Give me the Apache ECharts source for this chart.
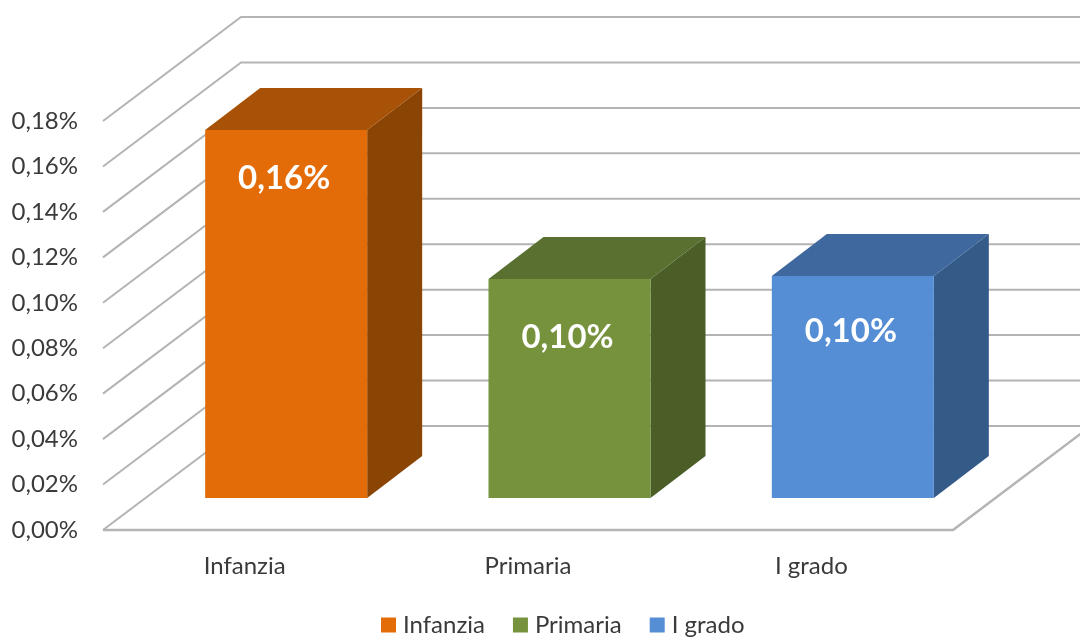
<!DOCTYPE html>
<html>
<head>
<meta charset="utf-8">
<style>html,body{margin:0;padding:0;background:#fff}#main{width:1080px;height:637px}</style>
<script src="https://cdn.jsdelivr.net/npm/echarts@6/dist/echarts.min.js"></script>
</head>
<body>
<div id="main"></div>
<script>
var categories = ['Infanzia', 'Primaria', 'I grado'];
var barValues = [0.162, 0.0964, 0.0977];
var tickValues = [0, 0.02, 0.04, 0.06, 0.08, 0.10, 0.12, 0.14, 0.16, 0.18];

// fake 3d: pixel offsets of the back wall and of the bars
var WALL_DX = 138, WALL_DY = 104;
var BAR_DX = 55, BAR_DY = 42;
var BAR_SHIFT_X = 41.5, BAR_SHIFT_Y = 32, BAR_W = 162;
var LINE = '#b4b4b4';
var FONT = 'Lato';
var TEXT = '#3a3a3a';

var barColors = [
    {front: '#e36c09', top: '#a85207', side: '#8a4505'},
    {front: '#76923c', top: '#5a7030', side: '#4b5e27'},
    {front: '#558ed5', top: '#3f699e', side: '#345a88'}
];
var labelOffsets = [48, 58, 55];

function fmt(v) {
    return v.toFixed(2).replace('.', ',') + '%';
}

function renderGrid(params, api) {
    var g = params.coordSys;
    var y = api.coord([0, api.value(0)])[1];
    var x0 = g.x, bx = g.x + WALL_DX, by = y - WALL_DY;
    var children = [{
        type: 'polyline',
        shape: {points: [[x0, y], [bx, by], [api.getWidth(), by]]},
        style: {stroke: LINE, lineWidth: 2, fill: null}
    }];
    if (api.value(0) === 0) {
        children.push({
            type: 'polyline',
            shape: {points: [[x0, y], [x0 + g.width, y], [x0 + g.width + WALL_DX, by]]},
            style: {stroke: LINE, lineWidth: 2.5, fill: null}
        });
    }
    return {type: 'group', children: children};
}

function renderBar(params, api) {
    var i = params.seriesIndex - 1;
    var c = barColors[i];
    var top = api.coord([api.value(0), api.value(1)]);
    var base = api.coord([api.value(0), 0]);
    var l = top[0] + BAR_SHIFT_X - BAR_W / 2, r = l + BAR_W;
    var t = top[1] - BAR_SHIFT_Y, b = base[1] - BAR_SHIFT_Y;
    return {
        type: 'group',
        children: [
            {type: 'polygon', shape: {points: [[r, t], [r + BAR_DX, t - BAR_DY], [r + BAR_DX, b - BAR_DY], [r, b]]}, style: {fill: c.side}},
            {type: 'polygon', shape: {points: [[l, t], [l + BAR_DX, t - BAR_DY], [r + BAR_DX, t - BAR_DY], [r, t]]}, style: {fill: c.top}},
            {type: 'rect', shape: {x: l, y: t, width: BAR_W, height: b - t}, style: {fill: c.front}},
            {type: 'text', style: {
                x: (l + r) / 2 - 2, y: t + labelOffsets[i],
                text: fmt(api.value(1)),
                fill: '#fff', font: 'bold 33px ' + FONT,
                textAlign: 'center', textVerticalAlign: 'middle'
            }}
        ]
    };
}

var series = [{
    name: 'griglia',
    type: 'custom',
    silent: true,
    renderItem: renderGrid,
    data: tickValues.map(function (v) { return [v]; }),
    encode: {y: 0},
    z: 1
}];
categories.forEach(function (name, i) {
    series.push({
        name: name,
        type: 'custom',
        silent: true,
        renderItem: renderBar,
        itemStyle: {color: barColors[i].front},
        data: [[i, barValues[i]]],
        encode: {x: 0, y: 1},
        z: 2
    });
});

var option = {
    backgroundColor: '#fff',
    animation: false,
    grid: {left: 103, right: 127, top: 121, bottom: 107},
    legend: {
        data: categories,
        left: 376,
        top: 608,
        icon: 'rect',
        itemWidth: 15,
        itemHeight: 15,
        itemGap: 28,
        selectedMode: false,
        textStyle: {color: TEXT, fontSize: 24, fontFamily: FONT, padding: [0, 0, 0, 2]}
    },
    xAxis: {
        type: 'category',
        data: categories,
        axisLine: {show: false},
        axisTick: {show: false},
        axisLabel: {color: TEXT, fontSize: 24, fontFamily: FONT, margin: 24}
    },
    yAxis: {
        type: 'value',
        min: 0,
        max: 0.18,
        interval: 0.02,
        axisLine: {show: false},
        axisTick: {show: false},
        splitLine: {show: false},
        axisLabel: {color: TEXT, fontSize: 24, fontFamily: FONT, margin: 25, formatter: fmt}
    },
    series: series
};

var myChart = echarts.init(document.getElementById('main'));
myChart.setOption(option);
</script>
</body>
</html>
